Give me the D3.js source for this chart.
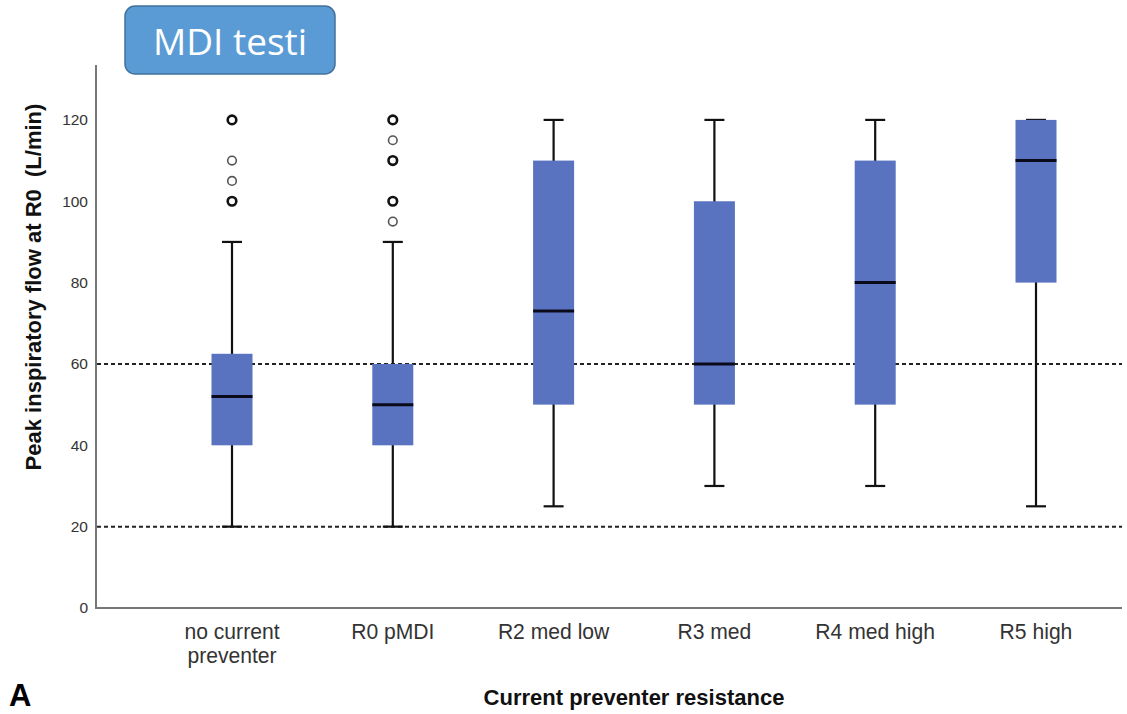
<!DOCTYPE html>
<html>
<head>
<meta charset="utf-8">
<script src="https://cdn.jsdelivr.net/npm/d3@7"></script>
<style>
  body { margin: 0; background: #fff; }
  svg { display: block; }
</style>
</head>
<body>
<svg width="1127" height="714"></svg>
<script>
var svg = d3.select('svg');

// data
var categories = ['no current preventer', 'R0 pMDI', 'R2 med low', 'R3 med', 'R4 med high', 'R5 high'];
var whiskerLow = [20, 20, 25, 30, 30, 25];
var q1 = [40, 40, 50, 50, 50, 80];
var median = [52, 50, 73, 60, 80, 110];
var q3 = [62.5, 60, 110, 100, 110, 120];
var whiskerHigh = [90, 90, 120, 120, 120, 120];
// outliers: [category index, value, bold?]
var outliers = [
    [0, 100, true], [0, 105, false], [0, 110, false], [0, 120, true],
    [1, 95, false], [1, 100, true], [1, 110, true], [1, 115, false], [1, 120, true]
];
var yTicks = [0, 20, 40, 60, 80, 100, 120];
var refLines = [20, 60];

var y = d3.scaleLinear().domain([0, 133.5]).range([608, 65]);
var x = d3.scalePoint().domain(categories).range([232, 1036]);
var boxW = 41, capW = 20;

// axes lines
svg.append('line')
    .attr('x1', 96).attr('x2', 96)
    .attr('y1', y(133.5)).attr('y2', y(0))
    .attr('stroke', '#777').attr('stroke-width', 2);
svg.append('line')
    .attr('x1', 95).attr('x2', 1122)
    .attr('y1', y(0)).attr('y2', y(0))
    .attr('stroke', '#777').attr('stroke-width', 2);

var yAxis = svg.append('g')
    .attr('transform', 'translate(96,0)')
    .call(d3.axisLeft(y).tickValues(yTicks).tickSize(0).tickPadding(8));
yAxis.select('.domain').remove();
yAxis.selectAll('text')
    .attr('font-family', 'Arial, Liberation Sans, sans-serif')
    .attr('font-size', 15.5)
    .attr('fill', '#333');

// reference lines
svg.selectAll('.ref')
    .data(refLines)
    .enter()
    .append('line')
    .attr('x1', 97).attr('x2', 1122)
    .attr('y1', function(d){ return y(d); })
    .attr('y2', function(d){ return y(d); })
    .attr('stroke', '#222')
    .attr('stroke-width', 2)
    .attr('stroke-dasharray', '4,3');

var boxes = svg.selectAll('.box')
    .data(categories)
    .enter()
    .append('g')
    .attr('class', 'box');

// whiskers
boxes.append('line')
    .attr('x1', function(d){ return x(d); })
    .attr('x2', function(d){ return x(d); })
    .attr('y1', function(d, i){ return y(whiskerLow[i]); })
    .attr('y2', function(d, i){ return y(whiskerHigh[i]); })
    .attr('stroke', '#111').attr('stroke-width', 2.2);
boxes.append('line')
    .attr('x1', function(d){ return x(d) - capW / 2; })
    .attr('x2', function(d){ return x(d) + capW / 2; })
    .attr('y1', function(d, i){ return y(whiskerLow[i]); })
    .attr('y2', function(d, i){ return y(whiskerLow[i]); })
    .attr('stroke', '#111').attr('stroke-width', 2.2);
boxes.append('line')
    .attr('x1', function(d){ return x(d) - capW / 2; })
    .attr('x2', function(d){ return x(d) + capW / 2; })
    .attr('y1', function(d, i){ return y(whiskerHigh[i]); })
    .attr('y2', function(d, i){ return y(whiskerHigh[i]); })
    .attr('stroke', '#111').attr('stroke-width', 2.2);

// boxes
boxes.append('rect')
    .attr('x', function(d){ return x(d) - boxW / 2; })
    .attr('width', boxW)
    .attr('y', function(d, i){ return y(q3[i]); })
    .attr('height', function(d, i){ return y(q1[i]) - y(q3[i]); })
    .attr('fill', '#5a73c0');

// medians
boxes.append('line')
    .attr('x1', function(d){ return x(d) - boxW / 2; })
    .attr('x2', function(d){ return x(d) + boxW / 2; })
    .attr('y1', function(d, i){ return y(median[i]); })
    .attr('y2', function(d, i){ return y(median[i]); })
    .attr('stroke', '#0a0a1a').attr('stroke-width', 3);

// outliers
svg.selectAll('.outlier')
    .data(outliers)
    .enter()
    .append('circle')
    .attr('cx', function(d){ return x(categories[d[0]]); })
    .attr('cy', function(d){ return y(d[1]); })
    .attr('r', 4.3)
    .attr('fill', 'none')
    .attr('stroke', function(d){ return d[2] ? '#111' : '#555'; })
    .attr('stroke-width', function(d){ return d[2] ? 2.6 : 1.6; });

// category labels (first one wraps onto two lines)
var catLabels = svg.selectAll('.cat')
    .data(categories)
    .enter()
    .append('text')
    .attr('x', function(d){ return x(d); })
    .attr('y', 639)
    .attr('text-anchor', 'middle')
    .attr('font-family', 'Arial, Liberation Sans, sans-serif')
    .attr('font-size', 22)
    .attr('fill', '#333')
    .attr('transform', function(d){ return 'translate(' + x(d) + ',0) scale(0.96,1) translate(' + (-x(d)) + ',0)'; });
catLabels.each(function(d){
    var t = d3.select(this);
    if (d === 'no current preventer') {
        t.append('tspan').attr('x', x(d)).attr('dy', 0).text('no current');
        t.append('tspan').attr('x', x(d)).attr('dy', 24).text('preventer');
    } else {
        t.text(d);
    }
});

// axis titles
svg.append('text')
    .attr('x', 634).attr('y', 705)
    .attr('text-anchor', 'middle')
    .attr('font-family', 'Arial, Liberation Sans, sans-serif')
    .attr('font-weight', 'bold')
    .attr('font-size', 22)
    .attr('fill', '#111')
    .text('Current preventer resistance');

svg.append('text')
    .attr('transform', 'translate(41,287) rotate(-90)')
    .attr('text-anchor', 'middle')
    .attr('font-family', 'Arial, Liberation Sans, sans-serif')
    .attr('font-weight', 'bold')
    .attr('font-size', 22)
    .attr('fill', '#111')
    .attr('xml:space', 'preserve')
    .text('Peak inspiratory flow at R0  (L/min)');

svg.append('text')
    .attr('x', 9).attr('y', 706)
    .attr('font-family', 'Arial, Liberation Sans, sans-serif')
    .attr('font-weight', 'bold')
    .attr('font-size', 31)
    .attr('fill', '#000')
    .text('A');

// title badge
svg.append('rect')
    .attr('x', 125).attr('y', 6)
    .attr('width', 210).attr('height', 68)
    .attr('rx', 10)
    .attr('fill', '#5b9bd5')
    .attr('stroke', '#41719c')
    .attr('stroke-width', 1.5);
svg.append('text')
    .attr('x', 230).attr('y', 55)
    .attr('text-anchor', 'middle')
    .attr('font-family', 'Open Sans, Noto Sans, sans-serif')
    .attr('font-size', 37)
    .attr('fill', '#fff')
    .text('MDI testi');
</script>
</body>
</html>
